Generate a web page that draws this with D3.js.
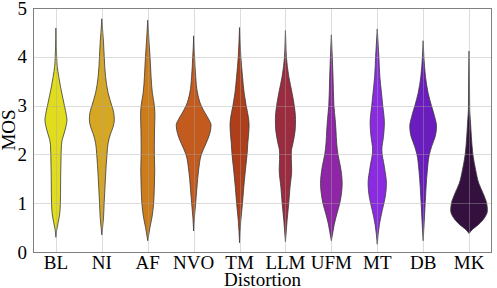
<!DOCTYPE html>
<html><head><meta charset="utf-8">
<script src="https://cdn.jsdelivr.net/npm/d3@7"></script>
<style>
html,body{margin:0;padding:0;background:#fff;}
svg{display:block;}
text{font-family:"Liberation Serif","Times New Roman",serif;fill:#000;}
</style></head>
<body>
<svg id="chart" width="497" height="288"></svg>
<script>
const categories = ["BL","NI","AF","NVO","TM","LLM","UFM","MT","DB","MK"];
const colors = ["#e1dc1e","#d6a722","#cd7c1c","#c25b1d","#ae3f1a","#9b2b3e","#8e26a6","#8a2be2","#6a1cbe","#34103f"];
const yTicks = [0,1,2,3,4,5];
// density profiles: [MOS, relative density]
const densBL  = [[4.59,0],[4.4,0.01],[4.2,0.02],[4.0,0.04],[3.8,0.07],[3.6,0.15],[3.4,0.24],[3.2,0.35],[3.0,0.46],[2.8,0.57],[2.7,0.60],[2.6,0.56],[2.4,0.42],[2.3,0.34],[2.2,0.30],[2.0,0.28],[1.6,0.26],[1.2,0.25],[1.0,0.24],[0.8,0.21],[0.6,0.12],[0.45,0.04],[0.3,0]];
const densNI  = [[4.78,0],[4.5,0.05],[4.3,0.09],[4.0,0.13],[3.6,0.2],[3.26,0.34],[3.0,0.54],[2.85,0.65],[2.71,0.68],[2.55,0.6],[2.43,0.48],[2.23,0.34],[2.0,0.28],[1.54,0.2],[1.0,0.125],[0.7,0.09],[0.5,0.04],[0.35,0]];
const densAF  = [[4.75,0],[4.5,0.04],[4.3,0.07],[4.0,0.125],[3.6,0.18],[3.26,0.25],[3.0,0.36],[2.78,0.39],[2.5,0.37],[2.2,0.36],[2.0,0.36],[1.68,0.38],[1.33,0.36],[1.0,0.32],[0.71,0.23],[0.5,0.12],[0.23,0]];
const densNVO = [[4.43,0],[4.2,0.02],[4.0,0.05],[3.6,0.11],[3.26,0.21],[3.0,0.41],[2.85,0.62],[2.72,0.82],[2.6,0.95],[2.43,0.88],[2.23,0.68],[2.0,0.42],[1.68,0.27],[1.33,0.18],[1.0,0.11],[0.7,0.04],[0.43,0]];
const densTM  = [[4.6,0],[4.3,0.03],[4.0,0.07],[3.6,0.16],[3.26,0.25],[3.0,0.36],[2.71,0.5],[2.6,0.52],[2.4,0.49],[2.23,0.45],[2.0,0.41],[1.68,0.32],[1.33,0.23],[1.0,0.16],[0.65,0.07],[0.19,0]];
const densLLM = [[4.54,0],[4.3,0.02],[4.0,0.05],[3.6,0.18],[3.26,0.36],[3.0,0.48],[2.71,0.55],[2.5,0.53],[2.23,0.41],[2.05,0.32],[1.9,0.32],[1.68,0.34],[1.33,0.25],[1.0,0.18],[0.65,0.09],[0.21,0]];
const densUFM = [[4.45,0],[4.0,0.05],[3.6,0.09],[3.0,0.14],[2.71,0.21],[2.5,0.25],[2.23,0.29],[2.0,0.36],[1.74,0.5],[1.4,0.59],[1.2,0.55],[1.0,0.46],[0.78,0.3],[0.57,0.16],[0.4,0.08],[0.23,0]];
const densMT  = [[4.57,0],[4.0,0.09],[3.6,0.14],[3.26,0.23],[3.0,0.3],[2.64,0.39],[2.37,0.34],[2.09,0.25],[1.74,0.39],[1.4,0.5],[1.12,0.43],[0.85,0.27],[0.57,0.12],[0.16,0]];
const densDB  = [[4.33,0],[4.0,0.04],[3.6,0.125],[3.26,0.27],[3.0,0.45],[2.78,0.62],[2.57,0.73],[2.37,0.66],[2.16,0.46],[2.0,0.34],[1.68,0.23],[1.33,0.16],[1.0,0.11],[0.7,0.07],[0.23,0]];
const densMK  = [[4.12,0],[3.6,0.02],[2.92,0.035],[2.71,0.07],[2.37,0.125],[2.0,0.21],[1.68,0.36],[1.4,0.54],[1.2,0.77],[1.0,0.96],[0.85,1.0],[0.71,0.86],[0.57,0.54],[0.47,0.21],[0.38,0]];
const densities = [densBL,densNI,densAF,densNVO,densTM,densLLM,densUFM,densMT,densDB,densMK];

const svg = d3.select("#chart");
const m = {left:33, right:5, top:8, bottom:36};
const W = 497, H = 288;
const x = d3.scaleBand().domain(categories).range([m.left, W - m.right]).paddingInner(0.2).paddingOuter(0.1);
const y = d3.scaleLinear().domain([0,5]).range([H - m.bottom, m.top]);
const w = d3.scaleLinear().domain([0,1]).range([0, x.bandwidth()/2]);

// violins
const g = svg.append("g");
categories.forEach((c,i)=>{
  const cx = x(c) + x.bandwidth()/2;
  const area = d3.area()
    .y(d=>y(d[0]))
    .x0(d=>cx - w(d[1]))
    .x1(d=>cx + w(d[1]))
    .curve(d3.curveMonotoneY);
  g.append("path").datum(densities[i].slice().reverse())
    .attr("d", area)
    .attr("fill", colors[i])
    .attr("stroke", "#3a3a3a")
    .attr("stroke-width", 0.8)
    .attr("stroke-linejoin","round");
});

// grid (on top, translucent)
const grid = svg.append("g").attr("stroke","#a8a8a8").attr("stroke-opacity",0.4).attr("stroke-width",1);
yTicks.forEach(t=>{
  grid.append("line").attr("x1",m.left).attr("x2",W-m.right).attr("y1",Math.round(y(t))+0.5).attr("y2",Math.round(y(t))+0.5);
});
categories.forEach(c=>{
  const cx = Math.round(x(c)+x.bandwidth()/2)+0.5;
  grid.append("line").attr("x1",cx).attr("x2",cx).attr("y1",m.top).attr("y2",H-m.bottom);
});

// frame
svg.append("rect").attr("x",m.left+0.5).attr("y",m.top+0.5)
  .attr("width",W-m.right-m.left-1).attr("height",H-m.bottom-m.top)
  .attr("fill","none").attr("stroke","#808080").attr("stroke-width",1);

// axes
const yAxis = d3.axisLeft(y).tickValues(yTicks).tickSize(0).tickPadding(6).tickFormat(d3.format("d"));
const ya = svg.append("g").attr("transform",`translate(${m.left},0)`).call(yAxis);
ya.select(".domain").remove();
ya.selectAll("text").attr("font-size",19).attr("font-family","Liberation Serif, serif");

const xAxis = d3.axisBottom(x).tickSize(0).tickPadding(4);
const xa = svg.append("g").attr("transform",`translate(0,${H-m.bottom})`).call(xAxis);
xa.select(".domain").remove();
xa.selectAll("text").attr("font-size",19).attr("font-family","Liberation Serif, serif");

svg.append("text").attr("x",(m.left+W-m.right)/2).attr("y",286).attr("text-anchor","middle")
  .attr("font-size",19).text("Distortion");
svg.append("text").attr("transform",`translate(15,${(m.top+H-m.bottom)/2}) rotate(-90)`)
  .attr("text-anchor","middle").attr("font-size",19).text("MOS");
</script>
</body></html>
